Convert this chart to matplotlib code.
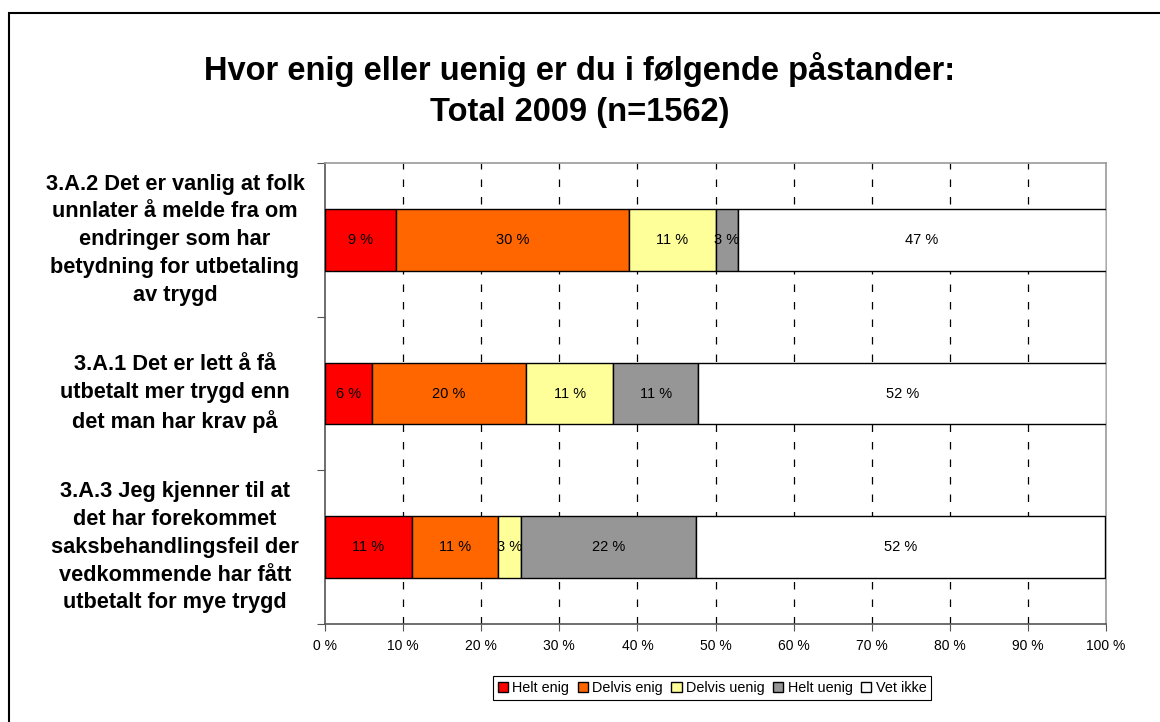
import numpy as np
import matplotlib
matplotlib.use("Agg")
import matplotlib.pyplot as plt
from matplotlib.transforms import blended_transform_factory
from matplotlib.patches import Rectangle

plt.rcParams['font.family'] = ['Liberation Sans', 'DejaVu Sans']

# data (percent), top to bottom
statements = [
    "3.A.2 Det er vanlig at folk\nunnlater å melde fra om\nendringer som har\nbetydning for utbetaling\nav trygd",
    "3.A.1 Det er lett å få\nutbetalt mer trygd enn\ndet man har krav på",
    "3.A.3 Jeg kjenner til at\ndet har forekommet\nsaksbehandlingsfeil der\nvedkommende har fått\nutbetalt for mye trygd",
]
answers = ["Helt enig", "Delvis enig", "Delvis uenig", "Helt uenig", "Vet ikke"]
helt_enig = [9.1, 6.0, 11.1]
delvis_enig = [29.8, 19.8, 11.1]
delvis_uenig = [11.1, 11.1, 2.9]
helt_uenig = [2.9, 10.9, 22.4]
vet_ikke = [47.1, 52.2, 52.4]
colors = ["#FF0000", "#FF6600", "#FFFF99", "#969696", "#FFFFFF"]

series = [helt_enig, delvis_enig, delvis_uenig, helt_uenig, vet_ikke]

fig = plt.figure(figsize=(11.6, 7.22), dpi=100)
ax = fig.add_axes([325/1160, 1 - 624/722, (1106 - 325)/1160, (624 - 163)/722])

ypos = np.array([2.5, 1.5, 0.5])
left = np.zeros(len(statements))
for vals, col, name in zip(series, colors, answers):
    vals = np.array(vals)
    ax.barh(ypos, vals, left=left, height=0.4, color=col,
            edgecolor="black", linewidth=1, label=name, zorder=3)
    for y, l, v in zip(ypos, left, vals):
        ax.text(l + v/2, y, "%d %%" % round(v), ha="center", va="center",
                fontsize=10.5, zorder=4)
    left += vals

ax.set_xlim(0, 100)
ax.set_ylim(0, 3)
ax.set_xticks(np.arange(0, 101, 10))
ax.set_xticklabels(["%d %%" % v for v in range(0, 101, 10)], fontsize=10)
ax.tick_params(axis="x", direction="out", length=5, color="#555555", pad=6)
ax.set_yticks([0, 1, 2, 3])
ax.set_yticklabels([])
ax.tick_params(axis="y", direction="out", length=6, color="#555555")

for v in range(10, 100, 10):
    ax.axvline(v, color="black", linestyle=(0, (6, 8)), linewidth=0.9, zorder=1)

for s in ["left", "bottom"]:
    ax.spines[s].set_color("#555555")
    ax.spines[s].set_linewidth(1.2)
for s in ["top", "right"]:
    ax.spines[s].set_color("#999999")
    ax.spines[s].set_linewidth(1.2)

trans = blended_transform_factory(fig.transFigure, ax.transData)
for y, txt in zip(ypos, statements):
    ax.text(175/1160, y, txt, transform=trans, ha="center", va="center",
            multialignment="center", fontsize=15.7, fontweight="bold",
            linespacing=1.43)

fig.text(0.5, 1 - 90/722, "Hvor enig eller uenig er du i følgende påstander:\nTotal 2009 (n=1562)",
         ha="center", va="center", fontsize=23.5, fontweight="bold", linespacing=1.45)

leg = ax.legend(loc="center", bbox_to_anchor=(712/1160, 1 - 688/722),
                bbox_transform=fig.transFigure, ncol=5, fontsize=10.4,
                frameon=True, fancybox=False, edgecolor="black", framealpha=1,
                handlelength=0.7, handleheight=0.7, handletextpad=0.3,
                columnspacing=0.6, borderpad=0.35, borderaxespad=0)
leg.get_frame().set_linewidth(0.8)

fig.patches.append(Rectangle((8.5/1160, -0.1), 1.2, 1.1 - 12.5/722, transform=fig.transFigure,
                             fill=False, edgecolor="black", linewidth=1.5))

fig.savefig("out.png", dpi=100)
